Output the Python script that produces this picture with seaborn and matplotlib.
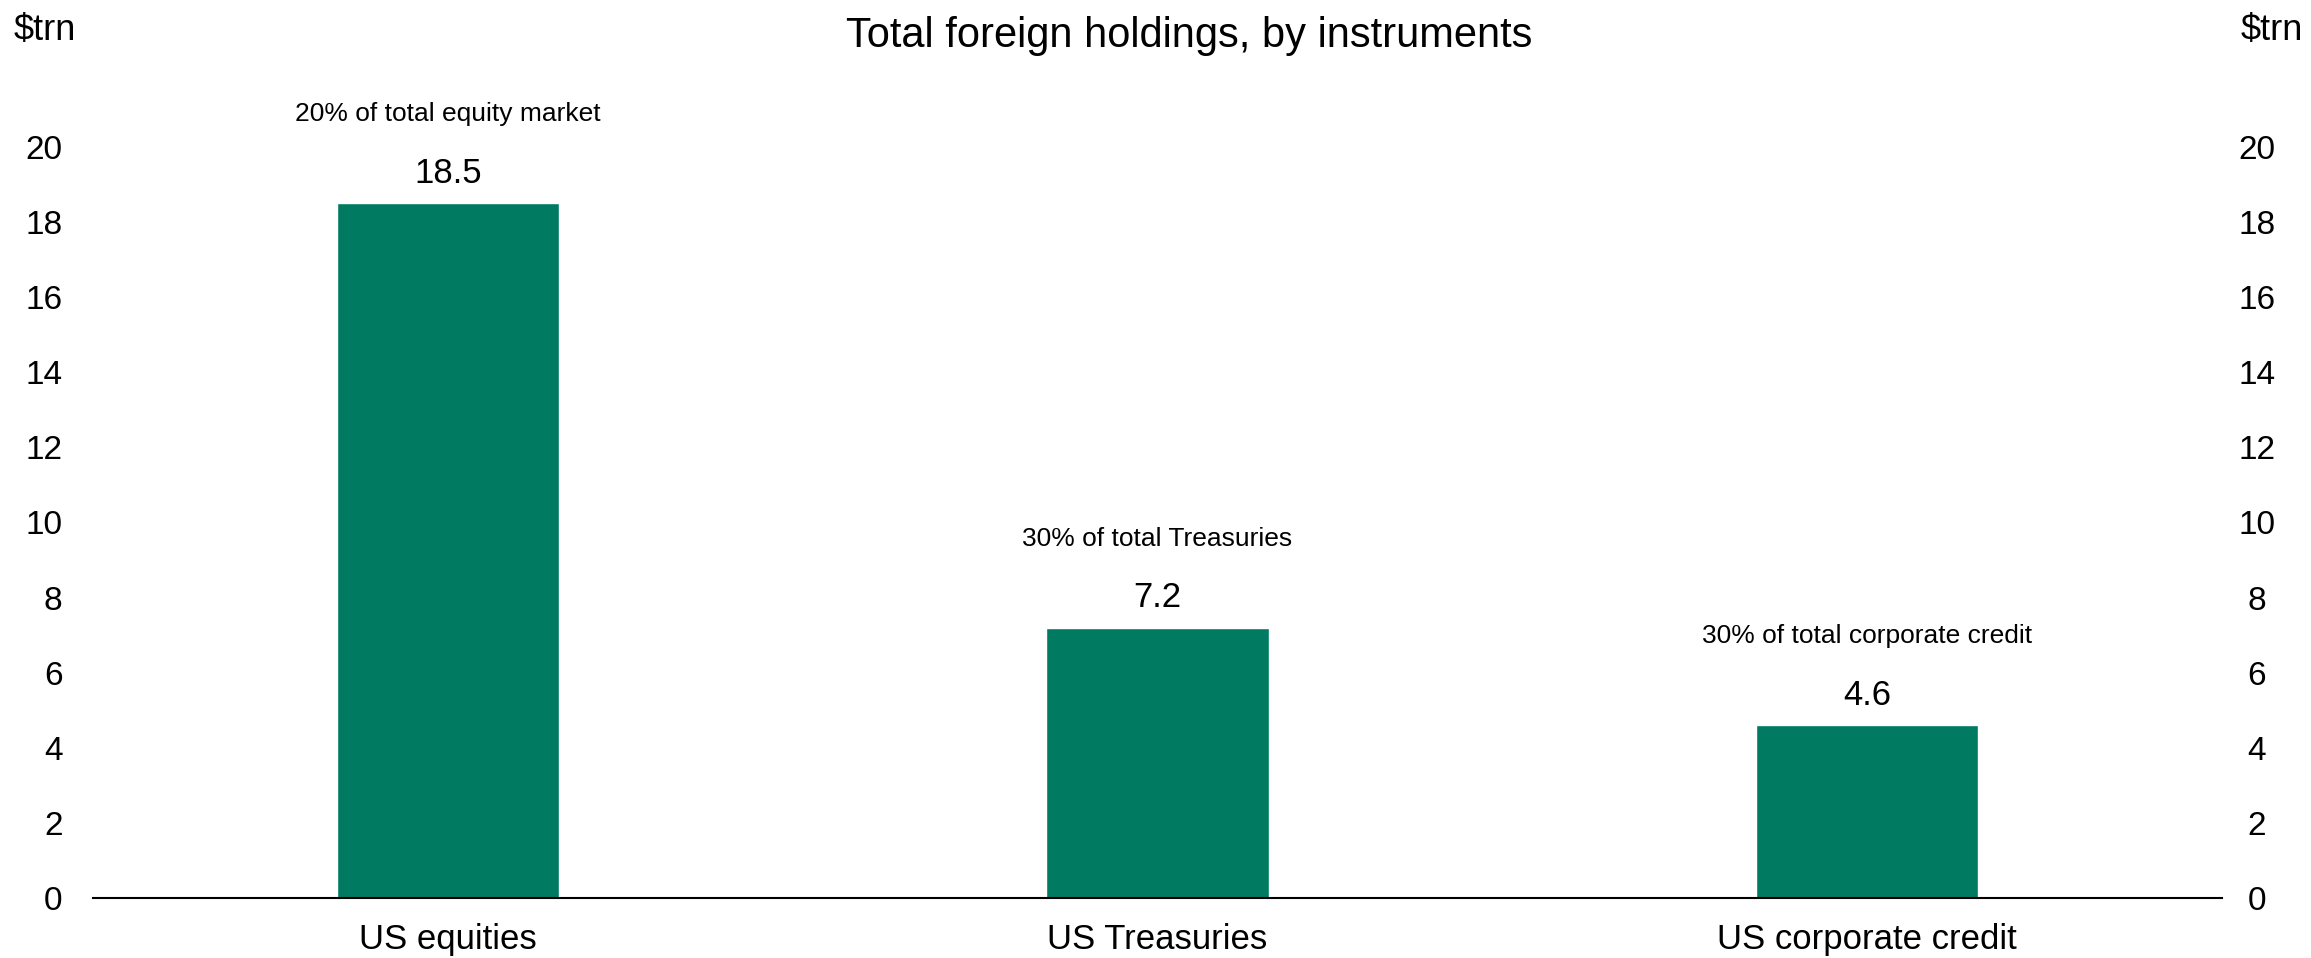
import matplotlib
matplotlib.use("Agg")
import matplotlib.pyplot as plt
import matplotlib.transforms as mtransforms
import seaborn as sns
import pandas as pd

categories = ["US equities", "US Treasuries", "US corporate credit"]
values = [18.5, 7.2, 4.6]
value_labels = ["18.5", "7.2", "4.6"]
notes = ["20% of total equity market", "30% of total Treasuries", "30% of total corporate credit"]
yticks = [0, 2, 4, 6, 8, 10, 12, 14, 16, 18, 20]
title = "Total foreign holdings, by instruments"
unit = "$trn"

sns.set_theme(style="white")
plt.rcParams["font.family"] = ["Liberation Sans", "DejaVu Sans"]

W, H = 2311, 958
fig = plt.figure(figsize=(W / 100, H / 100), dpi=100)
ax = fig.add_axes([93 / W, (H - 898) / H, (2222 - 93) / W, (898 - 147) / H])

df = pd.DataFrame({"cat": categories, "val": values})
sns.barplot(data=df, x="cat", y="val", color="#007A61", saturation=1, width=0.313, ax=ax)

ax.set_xlim(-0.5, 2.5)
ax.set_ylim(0, 20)
ax.set_yticks(yticks)
ax.set_yticklabels([str(t) for t in yticks])
ax.set_xlabel("")
ax.set_ylabel("")
for s in ["top", "right", "left"]:
    ax.spines[s].set_visible(False)
ax.spines["bottom"].set_color("black")
ax.spines["bottom"].set_linewidth(1.5)
ax.tick_params(axis="y", length=0, labelsize=24, pad=22, colors="black",
               labelleft=True, labelright=True)
ax.tick_params(axis="x", length=0, labelsize=25, pad=18, colors="black")
for t in ax.yaxis.get_major_ticks():
    t.label2.set_horizontalalignment("center")
    t.label2.set_transform(ax.get_yaxis_transform(which="tick2")
                           + mtransforms.ScaledTranslation(35 / 100, 0, fig.dpi_scale_trans))

for i, (v, vl, n) in enumerate(zip(values, value_labels, notes)):
    ax.annotate(vl, xy=(i, v), xytext=(0, 21.5), textcoords="offset points",
                ha="center", va="center", fontsize=25, color="black", annotation_clip=False)
    ax.annotate(n, xy=(i, v), xytext=(0, 64), textcoords="offset points",
                ha="center", va="center", fontsize=19, color="black", annotation_clip=False)

fig.text(1189 / W, 1 - 36 / H, title, ha="center", va="center", fontsize=30, color="black")
fig.text(14 / W, 1 - 31 / H, unit, ha="left", va="center", fontsize=26, color="black")
fig.text(2303 / W, 1 - 31 / H, unit, ha="right", va="center", fontsize=26, color="black")

fig.savefig("out.png", dpi=100, facecolor="white")
